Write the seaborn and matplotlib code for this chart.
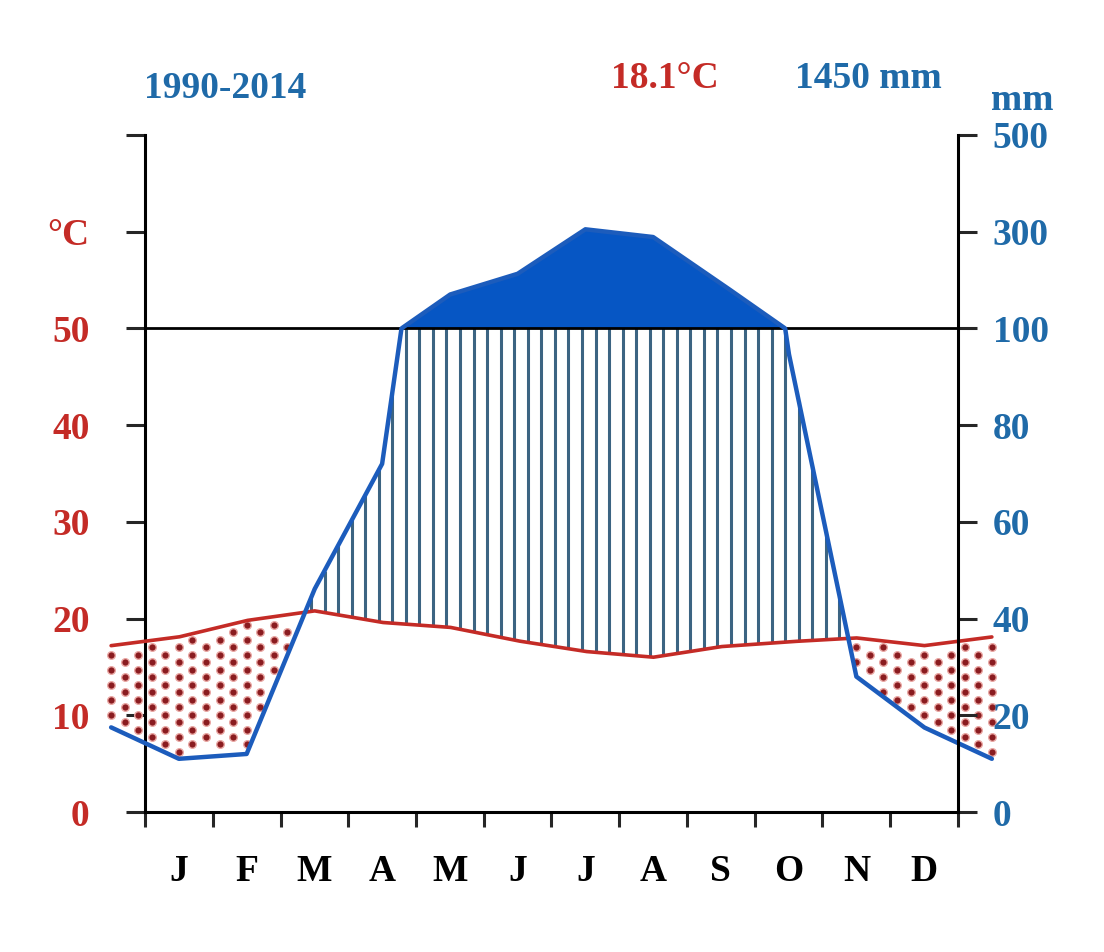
import seaborn as sns
import matplotlib.pyplot as plt
import numpy as np
import pandas as pd

meses = ['J', 'F', 'M', 'A', 'M', 'J', 'J', 'A', 'S', 'O', 'N', 'D']
temperatura = [18.1, 19.8, 20.8, 19.6, 19.1, 17.7, 16.6, 16.0, 17.1, 17.6, 18.0, 17.2]
precipitacion = [11, 12, 46, 72, 170, 213, 305, 289, 193, 95, 28, 17.5]

periodo = '1990-2014'
temp_media = '18.1°C'
prec_total = '1450 mm'

ticks_temp = [0, 10, 20, 30, 40, 50, 60, 70]
etiq_temp = ['0', '10', '20', '30', '40', '50', '°C', '']
etiq_prec = ['0', '20', '40', '60', '80', '100', '300', '500']

ROJO = '#c42b26'
AZUL_TXT = '#1f6aa8'
AZUL_LINEA = '#1c5cbc'
AZUL_RELLENO = '#0656c4'
RAYADO = '#3c6482'
TAM = 27


def escala_prec(p):
    # Walter-Lieth: 2 mm por grado hasta 100 mm, luego 20 mm por grado
    p = np.asarray(p, dtype=float)
    return np.where(p <= 100, p / 2, 50 + (p - 100) / 20)


sns.set_style('ticks')
plt.rcParams['font.family'] = ['Liberation Serif', 'DejaVu Serif']
plt.rcParams['font.weight'] = 'bold'

# se repite dic. al inicio y ene. al final
x_ext = np.concatenate([[-0.5], np.arange(12) + 0.5, [12.5]])
t_ext = [temperatura[-1]] + temperatura + [temperatura[0]]
p_ext = [precipitacion[-1]] + precipitacion + [precipitacion[0]]

xf = np.linspace(-0.5, 12.5, 2601)
tf = np.interp(xf, x_ext, t_ext)
pf = escala_prec(np.interp(xf, x_ext, p_ext))

df = pd.DataFrame({'x': xf, 'temp': tf, 'prec': pf})

fig = plt.figure(figsize=(11.04, 9.52), dpi=100)
ax = fig.add_axes([104.35 / 1104, 140 / 952, 894.3 / 1104, 677 / 952])
ax.set_xlim(-0.6, 12.6)
ax.set_ylim(0, 70)

# relleno sobre 100 mm
ax.fill_between(xf, 50, pf, where=pf >= 50, color=AZUL_RELLENO, lw=0, zorder=2)

# periodo humedo: rayado vertical
xr = np.arange(0.05, 12.5, 0.2)
sup = np.minimum(np.interp(xr, xf, pf), 50)
inf = np.interp(xr, xf, tf)
ok = sup > inf
ax.vlines(xr[ok], inf[ok], sup[ok], color=RAYADO, lw=2.2, zorder=2)

# periodo arido: puntos
px, py = [], []
for k in range(-3, 63):
    xk = 0.1 + 0.2 * k
    if xk > 12.5:
        break
    t_k = np.interp(xk, xf, tf)
    p_k = np.interp(xk, xf, pf)
    for j in range(0, 20):
        yk = 1.55 * j + (0.78 if k % 2 else 0)
        if p_k + 0.5 < yk < t_k - 0.4:
            px.append(xk)
            py.append(yk)
sns.scatterplot(x=px, y=py, ax=ax, color='#8a1c20', s=30, edgecolor='#eaa8a4',
                linewidth=1.0, zorder=3, legend=False)

ax.hlines(50, 0, 12, color='black', lw=2, zorder=3)

sns.lineplot(data=df, x='x', y='temp', ax=ax, color=ROJO, lw=2.6, sort=False,
             estimator=None, zorder=4)
sns.lineplot(data=df, x='x', y='prec', ax=ax, color=AZUL_LINEA, lw=3.2, sort=False,
             estimator=None, zorder=5)
ax.set_xlabel('')
ax.set_ylabel('')

# ejes
ax.spines['top'].set_visible(False)
ax.spines['right'].set_visible(False)
ax.spines['left'].set_position(('data', 0))
ax.spines['bottom'].set_bounds(0, 12)
for lado in ['left', 'bottom']:
    ax.spines[lado].set_linewidth(2.2)
    ax.spines[lado].set_color('black')

ax.set_yticks(ticks_temp)
ax.set_yticklabels(etiq_temp)
ax.tick_params(axis='y', direction='out', length=14, width=2.2, pad=26,
               labelsize=TAM, labelcolor=ROJO)

ax.set_xticks(range(13))
ax.set_xticklabels([''] * 13)
ax.set_xticks(np.arange(12) + 0.5, minor=True)
ax.set_xticklabels(meses, minor=True)
ax.tick_params(axis='x', which='major', direction='out', length=11, width=2.2)
ax.tick_params(axis='x', which='minor', length=0, pad=30, labelsize=TAM,
               labelcolor='black')

ax2 = ax.twinx()
ax2.set_ylim(0, 70)
ax2.set_position(ax.get_position())
for lado in ['top', 'left', 'bottom']:
    ax2.spines[lado].set_visible(False)
ax2.spines['right'].set_position(('data', 12))
ax2.spines['right'].set_linewidth(2.2)
ax2.spines['right'].set_color('black')
ax2.set_yticks(ticks_temp)
ax2.set_yticklabels(etiq_prec)
ax2.tick_params(axis='y', direction='out', length=14, width=2.2, pad=11,
                labelsize=TAM, labelcolor=AZUL_TXT)

for lab in ax.get_yticklabels() + ax.get_xticklabels(minor=True) + ax2.get_yticklabels():
    lab.set_fontweight('bold')

# textos de cabecera
fig.text(225 / 1104, 1 - 88 / 952, periodo, color=AZUL_TXT, fontsize=TAM,
         fontweight='bold', ha='center', va='center')
fig.text(665 / 1104, 1 - 78 / 952, temp_media, color=ROJO, fontsize=TAM,
         fontweight='bold', ha='center', va='center')
fig.text(868 / 1104, 1 - 78 / 952, prec_total, color=AZUL_TXT, fontsize=TAM,
         fontweight='bold', ha='center', va='center')
fig.text(1022 / 1104, 1 - 100 / 952, 'mm', color=AZUL_TXT, fontsize=TAM,
         fontweight='bold', ha='center', va='center')

fig.savefig('out.png', dpi=100, facecolor='white')
